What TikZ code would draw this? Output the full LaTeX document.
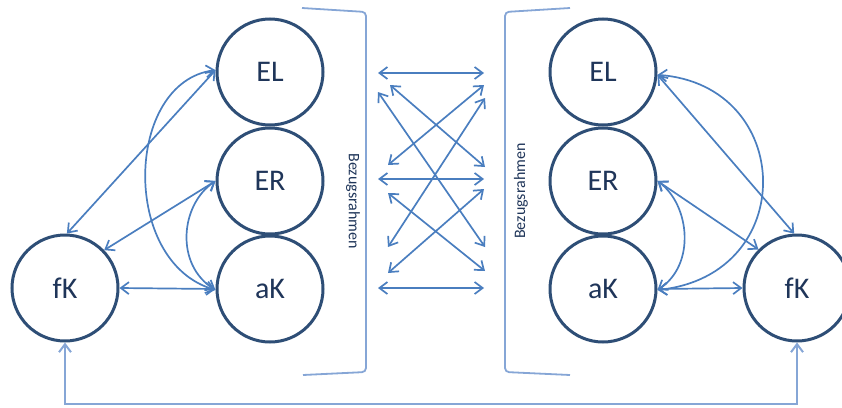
\documentclass[tikz,border=0pt]{standalone}
\usepackage{fontspec}
\setmainfont{Carlito}
\usetikzlibrary{arrows.meta}
\definecolor{ringblue}{HTML}{2E4E76}
\definecolor{arrowblue}{HTML}{4A7EBF}
\definecolor{frameblue}{HTML}{86A6D6}
\definecolor{labelnavy}{HTML}{1F3559}
\tikzset{
  state/.style={circle, draw=ringblue, line width=3pt, minimum size=106pt,
    inner sep=0pt, font=\fontsize{30}{30}\selectfont, text=labelnavy},
  tip/.tip={Straight Barb[length=8pt,width=12pt]},
  link/.style={draw=arrowblue, line width=1.7pt, tip-tip},
  frame/.style={draw=frameblue, line width=1.8pt, rounded corners=4pt},
  feedback/.style={draw=frameblue, line width=2pt, tip-tip},
  frametext/.style={text=labelnavy, inner sep=0pt,
    font=\fontsize{16}{16}\selectfont}
}
\begin{document}
\begin{tikzpicture}[x=1pt,y=-1pt]
\useasboundingbox (0,0) rectangle (842,407);

% left group
\node[state] (ELl) at (270,72)  {EL};
\node[state] (ERl) at (270,181) {ER};
\node[state] (aKl) at (270,289) {aK};
\node[state] (fKl) at (65,288)  {fK};

% right group
\node[state] (ELr) at (603,72)  {EL};
\node[state] (ERr) at (603,181) {ER};
\node[state] (aKr) at (603,289) {aK};
\node[state] (fKr) at (797,288) {fK};

% left relations
\draw[link] (fKl.88) -- (ELl.178);
\draw[link] (fKl.44) -- (ERl.west);
\draw[link] (fKl.east) -- (aKl.west);
\draw[link] (ELl.178) .. controls (125,82) and (120,262) .. (aKl.181);
\draw[link] (ERl.west) .. controls (180,205) and (175,265) .. (aKl.181);

% right relations
\draw[link] (ELr.-3) -- (fKr.93);
\draw[link] (ERr.east) -- (fKr.135);
\draw[link] (aKr.east) -- (fKr.west);
\draw[link] (ELr.-3) .. controls (795,85) and (800,275) .. (aKr.-1);
\draw[link] (ERr.east) .. controls (690,205) and (696,265) .. (aKr.-1);

% frames of reference
\draw[frame] (302,8) -- (366,12) -- (366,372) -- (303,375);
\draw[frame] (570,8) -- (505,12) -- (505,372) -- (570,375);
\node[frametext, rotate=-90] (bzl) at (353,201) {Bezugsrahmen};
\node[frametext, rotate=90]  (bzr) at (521,191) {Bezugsrahmen};

% cross links between the two frames
\coordinate (L1) at (378,73);  \coordinate (R1) at (484,73);
\coordinate (L2) at (390,85);  \coordinate (R2) at (484,85);
\coordinate (L3) at (378,92);  \coordinate (R3) at (485,98);
\coordinate (L4) at (388,165); \coordinate (R4) at (485,167);
\coordinate (L5) at (378,179); \coordinate (R5) at (484,179);
\coordinate (L6) at (388,193); \coordinate (R6) at (484,189);
\coordinate (L7) at (388,247); \coordinate (R7) at (485,247);
\coordinate (L8) at (388,273); \coordinate (R8) at (485,271);
\coordinate (L9) at (378,288); \coordinate (R9) at (484,288);
\draw[link] (L1) -- (R1);
\draw[link] (L2) -- (R4);
\draw[link] (L3) -- (R7);
\draw[link] (L4) -- (R2);
\draw[link] (L5) -- (R5);
\draw[link] (L6) -- (R8);
\draw[link] (L7) -- (R3);
\draw[link] (L8) -- (R6);
\draw[link] (L9) -- (R9);

% feedback between the two fK
\draw[feedback] (fKl.south) -- ++(0,61) -| (fKr.south);
\end{tikzpicture}
\end{document}
